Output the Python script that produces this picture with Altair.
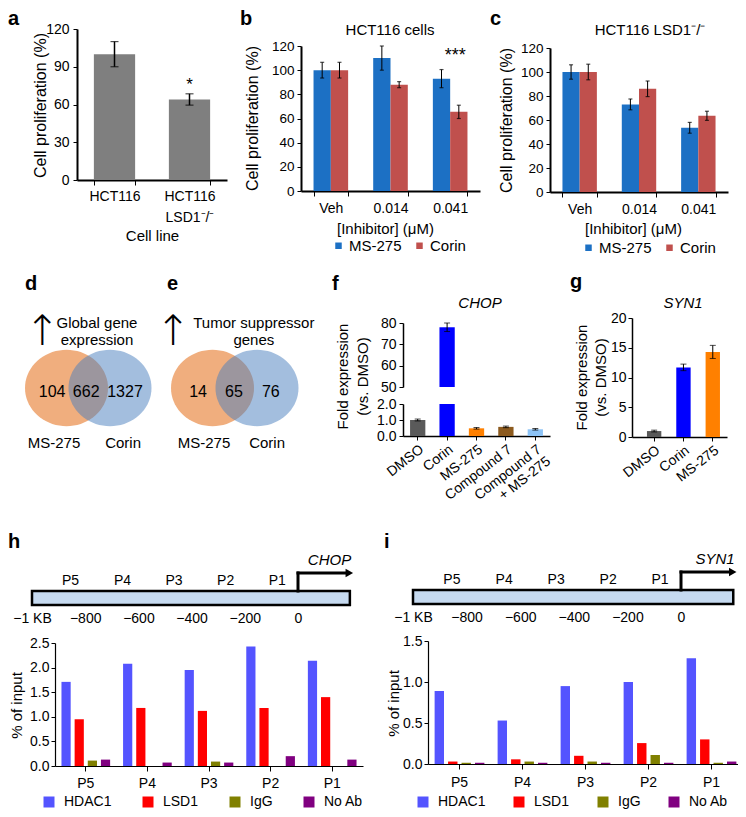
import math
import altair as alt
import pandas as pd

# ---------------- data ----------------
a_lines = ["HCT116", "HCT116 LSD1⁻/⁻"]
a_prolif = [100, 64]
a_prolif_err = [10, 4.5]
a_sig = ["", "*"]

doses = ["Veh", "0.014", "0.041"]
inhibitors = ["MS-275", "Corin"]
b_ms275 = [100, 110, 93]
b_ms275_err = [6.5, 10, 7.5]
b_corin = [100, 88, 65.5]
b_corin_err = [6.5, 2.5, 5.5]
b_sig = ["", "", "***"]
c_ms275 = [100, 73, 53.5]
c_ms275_err = [6, 4.5, 4.5]
c_corin = [100, 86, 63.5]
c_corin_err = [6.5, 6.5, 3.8]
c_sig = ["", "", ""]

venn_sets = ["MS-275", "Corin"]
d_counts = [104, 662, 1327]
e_counts = [14, 65, 76]
d_title = ["Global gene", "expression"]
e_title = ["Tumor suppressor", "genes"]

f_treatments = ["DMSO", "Corin", "MS-275", "Compound 7", "Compound 7\n+ MS-275"]
f_fold = [1.0, 78.0, 0.48, 0.57, 0.42]
f_fold_err = [0.06, 2.0, 0.05, 0.05, 0.05]
g_treatments = ["DMSO", "Corin", "MS-275"]
g_fold = [1.0, 11.7, 14.3]
g_fold_err = [0.15, 0.55, 1.1]

regions = ["P5", "P4", "P3", "P2", "P1"]
region_pos = [-855, -660, -466, -272, -78]
kb_ticks = [-1000, -800, -600, -400, -200, 0]
antibodies = ["HDAC1", "LSD1", "IgG", "No Ab"]
h_hdac1 = [1.71, 2.08, 1.95, 2.43, 2.14]
h_lsd1 = [0.95, 1.18, 1.12, 1.18, 1.40]
h_igg = [0.11, 0.0, 0.09, 0.0, 0.0]
h_noab = [0.13, 0.07, 0.07, 0.20, 0.13]
i_hdac1 = [0.89, 0.53, 0.95, 1.00, 1.29]
i_lsd1 = [0.03, 0.057, 0.10, 0.255, 0.30]
i_igg = [0.015, 0.03, 0.03, 0.11, 0.015]
i_noab = [0.015, 0.015, 0.015, 0.015, 0.03]

# ---------------- styling / layout ----------------
FONT = "Liberation Sans"
W, H = 730, 801


def P(v):
    """reference-page pixel -> chart pixel (page margin is 8px)"""
    return v - 8


GRAY = "#7F7F7F"
MS_BLUE = "#1C70C4"
CORIN_RED = "#C0504D"
V_ORANGE = "#F0AE7E"
V_BLUE = "#477DBD"
f_colors = ["#5A5A5A", "#0000FF", "#FF8000", "#8C5A1E", "#8DC3F6"]
g_colors = ["#5A5A5A", "#0000FF", "#FF8000"]
chip_colors = ["#5454FF", "#FF0000", "#808000", "#800080"]


def note(text, x, y, size=15, weight="normal", style="normal", align="center", baseline="middle"):
    return alt.Chart(alt.Data(values=[{"t": text}])).mark_text(
        font=FONT, fontSize=size, fontWeight=weight, fontStyle=style,
        align=align, baseline=baseline, color="black"
    ).encode(x=alt.value(x), y=alt.value(y), text="t:N")


def caps(chart_df, enc, ykey, size):
    return alt.Chart(chart_df).mark_tick(color="black", thickness=1.2, size=size).encode(**enc, y=ykey)


# ---------------- panel a ----------------
df_a = pd.DataFrame({"line": a_lines, "v": a_prolif, "e": a_prolif_err, "sig": a_sig})
df_a["lo"] = df_a.v - df_a.e
df_a["hi"] = df_a.v + df_a.e

xa = alt.X("line:N", sort=a_lines,
           scale=alt.Scale(domain=a_lines, range=[P(77), P(227)], paddingInner=0.45, paddingOuter=0.225),
           axis=alt.Axis(orient="bottom", offset=P(180) - H, title="Cell line",
                         titleX=P(152), titleY=55, titleBaseline="middle", titleFontSize=15,
                         tickBand="extent", tickSize=5, domainWidth=2, labelAngle=0,
                         labelExpr="split(datum.label, ' ')", labelLineHeight=21,
                         labelPadding=4, labelFontSize=14))


def ya(field):
    return alt.Y(f"{field}:Q",
                 scale=alt.Scale(domain=[0, 120], range=[P(180), P(29)], nice=False, zero=False),
                 axis=alt.Axis(orient="left", offset=-P(77), values=[0, 30, 60, 90, 120],
                               title="Cell proliferation (%)", titleX=-37, titleY=P(105),
                               titleBaseline="middle", titleAlign="center", titleFontSize=16,
                               domainWidth=2, tickSize=4, labelPadding=4, labelFontSize=14))


panel_a = alt.layer(
    alt.Chart(df_a).mark_bar(color=GRAY).encode(x=xa, y=ya("v")),
    alt.Chart(df_a).mark_rule(color="black", strokeWidth=1.5).encode(x=xa, y=ya("lo"), y2="hi:Q"),
    caps(df_a, {"x": xa}, ya("lo"), 8),
    caps(df_a, {"x": xa}, ya("hi"), 8),
    alt.Chart(df_a).mark_text(fontSize=17, baseline="alphabetic", dy=-4, color="black").encode(
        x=xa, y=ya("hi"), text="sig:N"),
)


# ---------------- panels b, c ----------------
def dose_panel(ms, ms_err, co, co_err, sig, L):
    rows = []
    for i, d in enumerate(doses):
        rows.append({"dose": d, "inh": "MS-275", "v": ms[i], "e": ms_err[i]})
        rows.append({"dose": d, "inh": "Corin", "v": co[i], "e": co_err[i]})
    df = pd.DataFrame(rows)
    df["lo"] = df.v - df.e
    df["hi"] = df.v + df.e
    top = df.groupby("dose")["hi"].max()
    sdf = pd.DataFrame({"dose": doses, "sig": sig, "top": [float(top[d]) for d in doses]})

    X = alt.X("dose:N", sort=doses,
              scale=alt.Scale(domain=doses, range=[P(L["x0"]), P(L["x1"])], paddingInner=0.42,
                              paddingOuter=0.21),
              axis=alt.Axis(orient="bottom", offset=P(L["y0"]) - H, title="[Inhibitor] (μM)",
                            titleX=P(L["xtx"]), titleY=L["xty"], titleBaseline="middle", titleFontSize=15,
                            tickBand="extent", tickSize=5, domainWidth=2, labelAngle=0,
                            labelPadding=5, labelFontSize=14))

    def Y(field):
        return alt.Y(f"{field}:Q",
                     scale=alt.Scale(domain=[0, 120], range=[P(L["y0"]), P(L["y120"])], nice=False, zero=False),
                     axis=alt.Axis(orient="left", offset=-P(L["x0"]), values=[0, 20, 40, 60, 80, 100, 120],
                                   title="Cell proliferation (%)", titleX=L["ytx"], titleY=P(L["yty"]),
                                   titleBaseline="middle", titleAlign="center", titleFontSize=16,
                                   domainWidth=2, tickSize=4, labelPadding=3, labelFontSize=13.5))

    XO = alt.XOffset("inh:N", sort=inhibitors,
                     scale=alt.Scale(domain=inhibitors, paddingInner=0, paddingOuter=0))
    C = alt.Color("inh:N", sort=inhibitors,
                  scale=alt.Scale(domain=inhibitors, range=[MS_BLUE, CORIN_RED]),
                  legend=alt.Legend(orient="none", legendX=P(L["lx"]), legendY=P(L["ly"]),
                                    direction="horizontal", title=None, symbolType="square",
                                    symbolSize=42, symbolStrokeWidth=0, labelFontSize=15,
                                    labelOffset=3, columnPadding=10, padding=0))
    return alt.layer(
        alt.Chart(df).mark_bar().encode(x=X, xOffset=XO, y=Y("v"), color=C),
        alt.Chart(df).mark_rule(color="black", strokeWidth=1).encode(x=X, xOffset=XO, y=Y("lo"), y2="hi:Q"),
        caps(df, {"x": X, "xOffset": XO}, Y("lo"), 4),
        caps(df, {"x": X, "xOffset": XO}, Y("hi"), 4),
        alt.Chart(sdf).mark_text(fontSize=18, baseline="alphabetic", dy=-9, dx=5, color="black").encode(
            x=X, y=Y("top"), text="sig:N"),
    )


panel_b = dose_panel(b_ms275, b_ms275_err, b_corin, b_corin_err, b_sig,
                     dict(x0=301, x1=480, y0=191, y120=46, ytx=-49, yty=118, xtx=385, xty=37,
                          lx=331, ly=238))
panel_c = dose_panel(c_ms275, c_ms275_err, c_corin, c_corin_err, c_sig,
                     dict(x0=550, x1=728, y0=192, y120=48, ytx=-44, yty=120, xtx=633, xty=36,
                          lx=581, ly=240))

# ---------------- panels d, e (Venn) ----------------
ELLIPSE = "M" + " L".join(
    f"{math.cos(2 * math.pi * k / 72):.4f},{0.92 * math.sin(2 * math.pi * k / 72):.4f}" for k in range(72)
) + " Z"


def venn_panel(counts, title_lines, cx, cy, r, sep, count_x, set_x, arrow_x, title_x):
    X = lambda f: alt.X(f"{f}:Q", scale=alt.Scale(domain=[-2, 2], range=[P(cx - 2 * r), P(cx + 2 * r)],
                                                   nice=False, zero=False), axis=None)
    Y = lambda f: alt.Y(f"{f}:Q", scale=alt.Scale(domain=[-2, 2], range=[P(cy + 2 * r), P(cy - 2 * r)],
                                                   nice=False, zero=False), axis=None)
    circ = pd.DataFrame({"set": venn_sets, "vx": [-sep, sep], "vy": [0.0, 0.0]})
    nums = pd.DataFrame({"n": [str(c) for c in counts], "vx": count_x, "vy": [-0.1] * 3})
    sets = pd.DataFrame({"s": venn_sets, "vx": set_x, "vy": [-1.33] * 2})
    ttl = pd.DataFrame({"t": title_lines, "vx": [title_x] * 2, "vy": [1.57, 1.16]})
    arr = pd.DataFrame({"t": ["↑"], "vx": [arrow_x], "vy": [1.36]})
    size = (2 * r) ** 2
    return alt.layer(
        alt.Chart(circ).transform_filter("datum.set == 'MS-275'").mark_point(
            shape=ELLIPSE, size=size, filled=True, opacity=1, color=V_ORANGE, strokeWidth=0
        ).encode(x=X("vx"), y=Y("vy")),
        alt.Chart(circ).transform_filter("datum.set == 'Corin'").mark_point(
            shape=ELLIPSE, size=size, filled=True, opacity=0.5, color=V_BLUE, strokeWidth=0
        ).encode(x=X("vx"), y=Y("vy")),
        alt.Chart(nums).mark_text(fontSize=16, color="black").encode(x=X("vx"), y=Y("vy"), text="n:N"),
        alt.Chart(sets).mark_text(fontSize=15, color="black").encode(x=X("vx"), y=Y("vy"), text="s:N"),
        alt.Chart(ttl).mark_text(fontSize=15, color="black").encode(x=X("vx"), y=Y("vy"), text="t:N"),
        alt.Chart(arr).mark_text(fontSize=42, color="black", font="DejaVu Sans", fontWeight=200).encode(
            x=X("vx"), y=Y("vy"), text="t:N"),
    )


panel_d = venn_panel(d_counts, d_title, 88.25, 388, 41.5, 0.524,
                     [-0.87, -0.05, 0.885], [-0.825, 0.84], -1.11, 0.21)
panel_e = venn_panel(e_counts, e_title, 234.75, 388, 41.5, 0.536,
                     [-0.885, -0.02, 0.87], [-0.74, 0.78], -1.49, 0.46)

# ---------------- panel f (broken axis) ----------------
df_f = pd.DataFrame({"treat": f_treatments, "fold": f_fold, "e": f_fold_err})
df_f["lo"] = df_f.fold - df_f.e
df_f["hi"] = df_f.fold + df_f.e

f_xaxis = alt.Axis(orient="bottom", offset=P(436) - H, title=None, labelAngle=-38, labelAlign="right",
                   labelBaseline="top", labelPadding=2, labelExpr="split(datum.label, '\\n')",
                   labelLineHeight=15, tickSize=4, domainWidth=1.5, labelFontSize=14)


def f_x(axis):
    return alt.X("treat:N", sort=f_treatments,
                 scale=alt.Scale(domain=f_treatments, range=[P(403), P(550)], paddingInner=0.48,
                                 paddingOuter=0.24), axis=axis)


def f_up_y(field):
    return alt.Y(f"{field}:Q", scale=alt.Scale(domain=[50, 80], range=[P(387), P(323)], nice=False, zero=False),
                 axis=alt.Axis(orient="left", offset=-P(403), values=[50, 60, 70, 80], title=None,
                               domainWidth=1.5, tickSize=4, labelPadding=3, labelFontSize=14))


def f_lo_y(field):
    return alt.Y(f"{field}:Q", scale=alt.Scale(domain=[0, 2], range=[P(436), P(404)], nice=False, zero=False),
                 axis=alt.Axis(orient="left", offset=-P(403), values=[0, 1, 2],
                               title=["Fold expression", "(vs. DMSO)"], titleX=-61, titleY=P(376),
                               titleBaseline="middle", titleAlign="center", titleFontSize=15,
                               titleLineHeight=20, domainWidth=1.5, tickSize=4, labelPadding=3,
                               labelFontSize=14))


def f_color():
    return alt.Color("treat:N", sort=f_treatments, scale=alt.Scale(domain=f_treatments, range=f_colors),
                     legend=None)


panel_f_up = alt.layer(
    alt.Chart(df_f).transform_filter("datum.fold > 50").mark_bar().encode(
        x=f_x(None), y=f_up_y("fold"), y2=alt.datum(50), color=f_color()),
    alt.Chart(df_f).transform_filter("datum.fold > 50").mark_rule(color="black", strokeWidth=1).encode(
        x=f_x(None), y=f_up_y("lo"), y2="hi:Q"),
    alt.Chart(df_f).transform_filter("datum.fold > 50").mark_tick(color="black", size=6, thickness=1).encode(
        x=f_x(None), y=f_up_y("lo")),
    alt.Chart(df_f).transform_filter("datum.fold > 50").mark_tick(color="black", size=6, thickness=1).encode(
        x=f_x(None), y=f_up_y("hi")),
)

panel_f_low = alt.layer(
    alt.Chart(df_f).transform_calculate(fc="min(datum.fold, 2)").mark_bar().encode(
        x=f_x(f_xaxis), y=f_lo_y("fc"), color=f_color()),
    alt.Chart(df_f).transform_filter("datum.fold < 50").mark_rule(color="black", strokeWidth=1).encode(
        x=f_x(f_xaxis), y=f_lo_y("lo"), y2="hi:Q"),
    alt.Chart(df_f).transform_filter("datum.fold < 50").mark_tick(color="black", size=6, thickness=1).encode(
        x=f_x(f_xaxis), y=f_lo_y("lo")),
    alt.Chart(df_f).transform_filter("datum.fold < 50").mark_tick(color="black", size=6, thickness=1).encode(
        x=f_x(f_xaxis), y=f_lo_y("hi")),
)

# ---------------- panel g ----------------
df_g = pd.DataFrame({"treat": g_treatments, "fold": g_fold, "e": g_fold_err})
df_g["lo"] = df_g.fold - df_g.e
df_g["hi"] = df_g.fold + df_g.e

g_x = alt.X("treat:N", sort=g_treatments,
            scale=alt.Scale(domain=g_treatments, range=[P(632), P(727)], paddingInner=0.51,
                            paddingOuter=0.375, align=0.68),
            axis=alt.Axis(orient="bottom", offset=P(437) - H, title=None, labelAngle=-38, labelAlign="right",
                          labelBaseline="top", labelPadding=2, tickSize=4, domainWidth=1.5, labelFontSize=14))


def g_y(field):
    return alt.Y(f"{field}:Q", scale=alt.Scale(domain=[0, 20], range=[P(437), P(318)], nice=False, zero=False),
                 axis=alt.Axis(orient="left", offset=-P(632), values=[0, 5, 10, 15, 20],
                               title=["Fold expression", "(vs. DMSO)"], titleX=-51, titleY=P(377),
                               titleBaseline="middle", titleAlign="center", titleFontSize=15,
                               titleLineHeight=19, domainWidth=1.5, tickSize=4, labelPadding=2,
                               labelFontSize=14))


panel_g = alt.layer(
    alt.Chart(df_g).mark_bar().encode(
        x=g_x, y=g_y("fold"),
        color=alt.Color("treat:N", sort=g_treatments, scale=alt.Scale(domain=g_treatments, range=g_colors),
                        legend=None)),
    alt.Chart(df_g).mark_rule(color="black", strokeWidth=1).encode(x=g_x, y=g_y("lo"), y2="hi:Q"),
    alt.Chart(df_g).mark_tick(color="black", size=6, thickness=1).encode(x=g_x, y=g_y("lo")),
    alt.Chart(df_g).mark_tick(color="black", size=6, thickness=1).encode(x=g_x, y=g_y("hi")),
)


# ---------------- panels h, i : promoter diagrams ----------------
def gene_panel(gene, x_m1000, x_0, box_bottom):
    per = (x_0 - x_m1000) / 1000.0
    kb_axis = alt.Axis(orient="bottom", offset=P(box_bottom + 4) - H, values=kb_ticks, domain=False,
                       ticks=False, tickSize=0, labelPadding=2, title=None, labelFontSize=14,
                       labelFlush=False,
                       labelExpr="datum.value == -1000 ? '−1 KB' : (datum.value < 0 ? '−' + abs(datum.value) : '0')")
    X = lambda f: alt.X(f"{f}:Q", scale=alt.Scale(domain=[-1000, 200], range=[P(x_m1000), P(x_0 + 200 * per)],
                                                   nice=False, zero=False), axis=kb_axis)
    Y = lambda f: alt.Y(f"{f}:Q", scale=alt.Scale(domain=[0, 10], range=[P(box_bottom), P(box_bottom - 50)],
                                                   nice=False, zero=False), axis=None)
    box = pd.DataFrame({"s": [-1000], "e": [195], "b": [0.0], "t": [2.8]})
    arrow = pd.DataFrame({"x": [0, 0], "x2": [0, 186], "y": [2.8, 6.4], "y2": [6.4, 6.4]})
    head = pd.DataFrame({"x": [193], "y": [6.4]})
    plabels = pd.DataFrame({"p": regions, "x": region_pos, "y": [4.8] * 5})
    glabel = pd.DataFrame({"g": [gene], "x": [200], "y": [9.0]})
    return alt.layer(
        alt.Chart(box).mark_rect(fill="#C6DAF0", stroke="black", strokeWidth=2.5).encode(
            x=X("s"), x2="e:Q", y=Y("b"), y2="t:Q"),
        alt.Chart(arrow).mark_rule(color="black", strokeWidth=3, strokeCap="square").encode(
            x=X("x"), x2="x2:Q", y=Y("y"), y2="y2:Q"),
        alt.Chart(head).mark_point(shape="triangle-right", filled=True, size=75, color="black",
                                   opacity=1).encode(x=X("x"), y=Y("y")),
        alt.Chart(plabels).mark_text(fontSize=14, color="black").encode(x=X("x"), y=Y("y"), text="p:N"),
        alt.Chart(glabel).mark_text(fontSize=15, fontStyle="italic", color="black", align="right").encode(
            x=X("x"), y=Y("y"), text="g:N"),
    )


panel_h_gene = gene_panel("CHOP", 32, 298, 605)
panel_i_gene = gene_panel("SYN1", 413, 681, 604)


# ---------------- panels h, i : ChIP bars ----------------
def chip_panel(series, L):
    rows = []
    for ab, vals in zip(antibodies, series):
        for reg, v in zip(regions, vals):
            rows.append({"region": reg, "ab": ab, "pct": v})
    df = pd.DataFrame(rows)
    X = alt.X("region:N", sort=regions,
              scale=alt.Scale(domain=regions, range=[P(L["x0"]), P(L["x1"])], paddingInner=0.21,
                              paddingOuter=0.105),
              axis=alt.Axis(orient="bottom", offset=P(L["y0"]) - H, title=None, tickSize=5, domainWidth=1.2,
                            labelPadding=L["lp"], labelAngle=0, labelFontSize=14))
    XO = alt.XOffset("ab:N", sort=antibodies, scale=alt.Scale(domain=antibodies, paddingInner=0.3, paddingOuter=0))
    Y = alt.Y("pct:Q", scale=alt.Scale(domain=[0, L["ymax"]], range=[P(L["y0"]), P(L["ytop"])],
                                       nice=False, zero=False),
              axis=alt.Axis(orient="left", offset=-P(L["x0"]), values=L["yvals"], format=".1f",
                            title="% of input", titleX=L["tx"], titleY=P(L["ty"]), titleBaseline="middle",
                            titleAlign="center", titleFontSize=15, domainWidth=1.2, tickSize=4,
                            labelPadding=2, labelFontSize=14))
    C = alt.Color("ab:N", sort=antibodies, scale=alt.Scale(domain=antibodies, range=chip_colors),
                  legend=alt.Legend(orient="none", legendX=P(L["lx"]), legendY=P(L["ly"]),
                                    direction="horizontal", title=None, symbolType="square",
                                    symbolSize=121, symbolStrokeWidth=0, labelFontSize=14,
                                    labelOffset=8, columnPadding=L["cp"], padding=0))
    return alt.Chart(df).mark_bar().encode(x=X, xOffset=XO, y=Y, color=C)


panel_h_bars = chip_panel([h_hdac1, h_lsd1, h_igg, h_noab],
                          dict(x0=55, x1=363, y0=766, ytop=643, ymax=2.5,
                               yvals=[0, 0.5, 1.0, 1.5, 2.0, 2.5], tx=-39, ty=705, lp=5,
                               lx=42, ly=795, cp=29))
panel_i_bars = chip_panel([i_hdac1, i_lsd1, i_igg, i_noab],
                          dict(x0=428, x1=743, y0=764, ytop=641, ymax=1.5,
                               yvals=[0, 0.5, 1.0, 1.5], tx=-35, ty=703, lp=6,
                               lx=416, ly=795, cp=26))

# ---------------- annotations ----------------
notes = [
    note("a", 0, 17, size=20, weight="bold", align="left", baseline="alphabetic"),
    note("b", P(240), 17, size=20, weight="bold", align="left", baseline="alphabetic"),
    note("c", P(490), 17, size=20, weight="bold", align="left", baseline="alphabetic"),
    note("d", P(25), P(290), size=20, weight="bold", align="left", baseline="alphabetic"),
    note("e", P(167), P(290), size=20, weight="bold", align="left", baseline="alphabetic"),
    note("f", P(332), P(290), size=20, weight="bold", align="left", baseline="alphabetic"),
    note("g", P(570), P(288), size=20, weight="bold", align="left", baseline="alphabetic"),
    note("h", 0, P(548), size=20, weight="bold", align="left", baseline="alphabetic"),
    note("i", P(384), P(548), size=20, weight="bold", align="left", baseline="alphabetic"),
    note("HCT116 cells", P(390), P(30), size=15),
    note("HCT116 LSD1⁻/⁻", P(650), P(30), size=15),
    note("CHOP", P(480), P(303), size=15, style="italic"),
    note("SYN1", P(683), P(303), size=15, style="italic"),
]

layers = [panel_a, panel_b, panel_c, panel_d, panel_e, panel_f_up, panel_f_low, panel_g,
          panel_h_gene, panel_i_gene, panel_h_bars, panel_i_bars] + notes

chart = alt.layer(*layers).resolve_scale(
    x="independent", y="independent", xOffset="independent", color="independent"
).resolve_axis(
    x="independent", y="independent"
).resolve_legend(
    color="independent"
).properties(
    width=W, height=H, autosize=alt.AutoSizeParams(type="none"), padding=0
).configure_view(
    stroke=None
).configure_axis(
    labelFont=FONT, titleFont=FONT, labelColor="black", titleColor="black",
    domainColor="black", tickColor="black", titleFontWeight="normal",
    grid=False, labelOverlap=False, labelFlush=False, labelBound=False
).configure_legend(
    labelFont=FONT, labelColor="black"
).configure_text(
    font=FONT, color="black"
)

chart.save("out.html", embed_options={"renderer": "svg", "actions": False})
